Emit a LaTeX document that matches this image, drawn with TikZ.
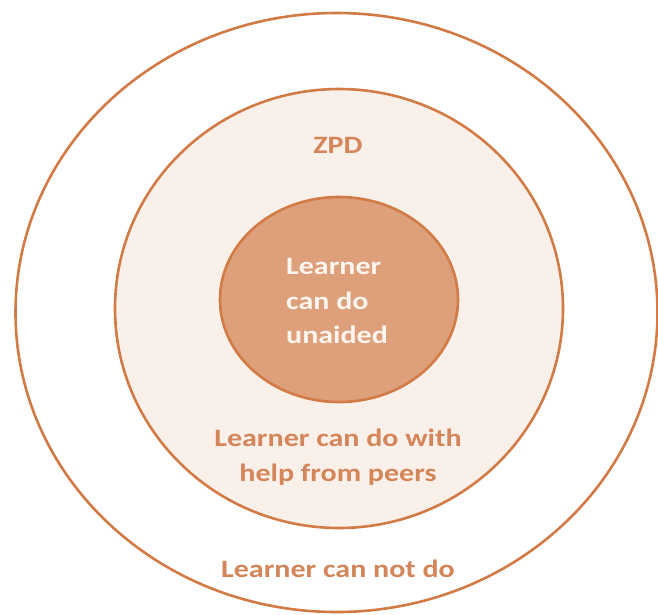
\documentclass[tikz,border=0pt]{standalone}
\usepackage{fontspec}
\setmainfont{Carlito}[FakeStretch=1.2]
\usetikzlibrary{shapes.geometric}
\definecolor{ringedge}{HTML}{D27B46}
\definecolor{innerfill}{HTML}{DDA07A}
\definecolor{zpdfill}{HTML}{FAF0EA}
\definecolor{labeltext}{HTML}{D4865A}
\definecolor{innertext}{HTML}{FCF4EF}
\begin{document}
\begin{tikzpicture}[x=1pt,y=-1pt,
  ring/.style={ellipse, draw=ringedge, line width=2.6pt, inner sep=0pt},
  lbl/.style={font=\fontsize{25}{34.5}\selectfont\bfseries, text=labeltext, align=center, inner sep=0pt}]
\useasboundingbox (0,0) rectangle (658,614);
\fill[white] (0,0) rectangle (658,614);
\node[ring, fill=white, minimum width=642pt, minimum height=599pt] (outer) at (336.5,312.5) {};
\node[ring, fill=zpdfill, minimum width=448pt, minimum height=439pt] (zpd) at (339,308.5) {};
\node[ring, fill=innerfill, minimum width=238pt, minimum height=205pt] (inner) at (339,299.5) {};
\node[lbl] (zpdlabel) at (338,145) {ZPD};
\node[lbl, text=innertext, align=left, anchor=west] (innerlabel) at (286,301) {Learner\\can do\\unaided};
\node[lbl] (helplabel) at (338,457) {Learner can do with\\help from peers};
\node[lbl] (notlabel) at (338,569) {Learner can not do};
\end{tikzpicture}
\end{document}
